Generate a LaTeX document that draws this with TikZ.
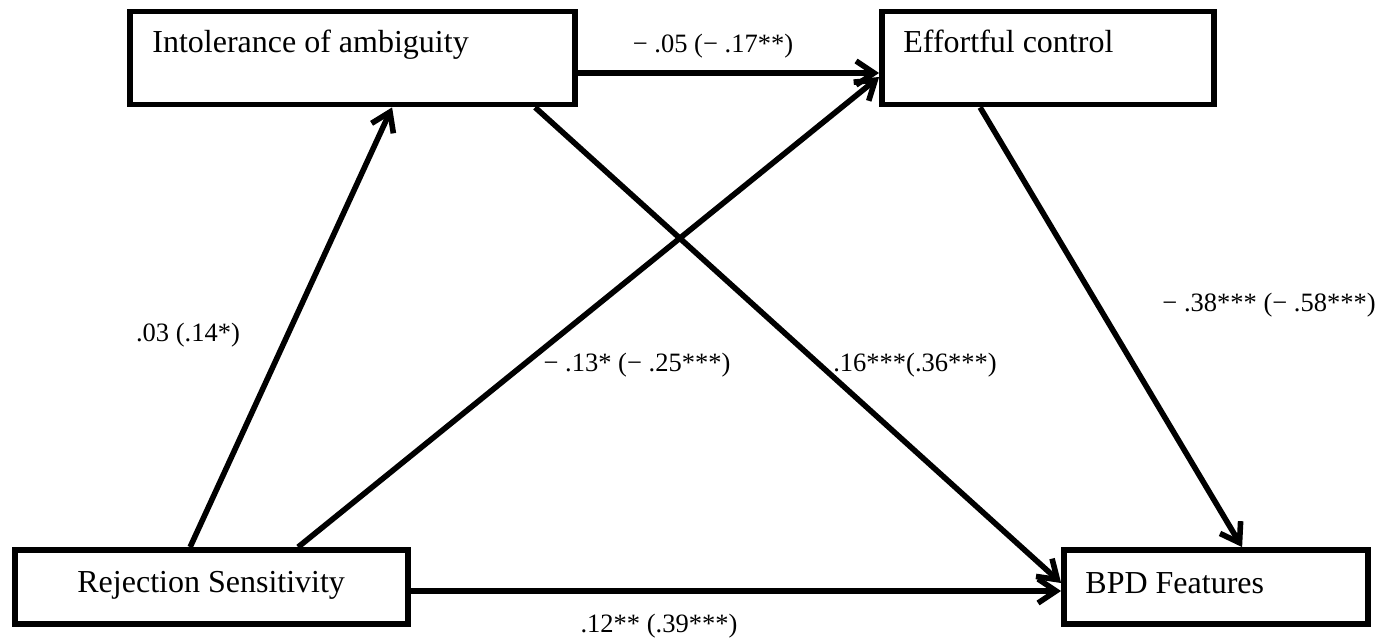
\documentclass[tikz,border=0pt]{standalone}
\usepackage{fontspec}
\setmainfont{Liberation Serif}
\usetikzlibrary{arrows.meta,calc}
\begin{document}
\begin{tikzpicture}[x=0.5pt,y=-0.5pt,
  box/.style={draw, line width=2.9pt, rectangle, inner sep=0pt},
  boxtext/.style={anchor=base west, inner sep=0pt, font=\fontsize{16pt}{19pt}\selectfont},
  coef/.style={inner sep=0pt, font=\fontsize{13.25pt}{16pt}\selectfont},
  link/.style={line width=2.8pt, -{Straight Barb[length=9pt,width=12pt]}}
]
\useasboundingbox (0,0) rectangle (1380,640);

% construct boxes
\node[box, minimum width=222.5pt, minimum height=46.5pt] (ioa) at (352.5,58) {};
\node[box, minimum width=166pt, minimum height=46.5pt] (ec) at (1048,58) {};
\node[box, minimum width=196.5pt, minimum height=37pt] (rs) at (211.5,587) {};
\node[box, minimum width=152pt, minimum height=37pt] (bpd) at (1216,587) {};

% box captions
\node[boxtext] (ioat) at (152,53) {Intolerance of ambiguity};
\node[boxtext] (ect) at (903,53) {Effortful control};
\node[boxtext] (rst) at (77,592) {Rejection Sensitivity};
\node[boxtext] (bpdt) at (1085,593) {BPD Features};

% paths
\draw[link] ($(rs.north west)+(178,0)$) -- ($(ioa.south west)+(265,0)$);
\draw[link] ($(rs.north west)+(286,0)$) -- ($(ec.west)+(0,19)$);
\draw[link] ($(ioa.south west)+(408,0)$) -- ($(bpd.west)+(0,-4)$);
\draw[link] ($(ec.south west)+(101,0)$) -- ($(bpd.north west)+(181,0)$);
\draw[link] ($(ioa.east)+(0,15)$) -- ($(ec.west)+(0,15)$);
\draw[link] ($(rs.east)+(0,4)$) -- ($(bpd.west)+(0,4)$);

% path coefficients
\node[coef] (c1) at (713,46) {− .05 (− .17**)};
\node[coef] (c2) at (188,335) {.03 (.14*)};
\node[coef] (c3) at (637,365) {− .13* (− .25***)};
\node[coef] (c4) at (915,365) {.16***(.36***)};
\node[coef] (c5) at (1269,305) {− .38*** (− .58***)};
\node[coef] (c6) at (659,626) {.12** (.39***)};
\end{tikzpicture}
\end{document}
